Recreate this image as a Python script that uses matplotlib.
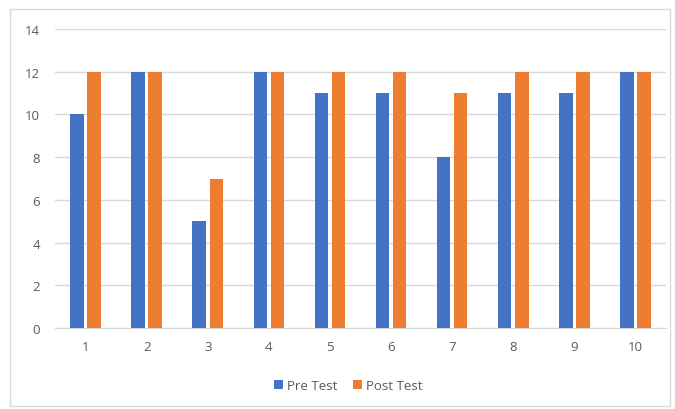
import matplotlib.pyplot as plt
import numpy as np
from matplotlib.patches import Rectangle

categories = ['1', '2', '3', '4', '5', '6', '7', '8', '9', '10']
pre_test = [10, 12, 5, 12, 11, 11, 8, 11, 11, 12]
post_test = [12, 12, 7, 12, 12, 12, 11, 12, 12, 12]

plt.rcParams['font.family'] = ['Open Sans', 'DejaVu Sans']

fig = plt.figure(figsize=(6.75, 4.1), dpi=100)
# outer chart border
fig.patches.append(Rectangle((10 / 675, 3 / 410), 660 / 675, 397 / 410, transform=fig.transFigure,
                             fill=False, edgecolor='#d9d9d9', linewidth=1))
ax = fig.add_axes([55 / 675, 81 / 410, 611 / 675, 299 / 410])

x = np.arange(len(categories))
w = 0.22
gap = 0.06
ax.bar(x - (w + gap) / 2, pre_test, w, color='#4472C4', label='Pre Test', zorder=3)
ax.bar(x + (w + gap) / 2, post_test, w, color='#ED7D31', label='Post Test', zorder=3)

ax.set_xlim(-0.5, len(categories) - 0.5)
ax.set_ylim(0, 14)
ax.set_yticks(range(0, 15, 2))
ax.set_xticks(x)
ax.set_xticklabels(categories)
ax.grid(axis='y', color='#d9d9d9', linewidth=1, zorder=0)
for s in ['top', 'right', 'left']:
    ax.spines[s].set_visible(False)
ax.spines['bottom'].set_color('#d9d9d9')
ax.tick_params(length=0, colors='#595959', labelsize=9.5)
ax.tick_params(axis='y', pad=11)
ax.tick_params(axis='x', pad=9)

ax.legend(loc='upper center', bbox_to_anchor=(0.48, -0.13), ncol=2, frameon=False,
          fontsize=9.5, handlelength=0.7, handleheight=0.7, handletextpad=0.3,
          columnspacing=1.2, labelcolor='#595959')

plt.savefig('out.png', dpi=100)
